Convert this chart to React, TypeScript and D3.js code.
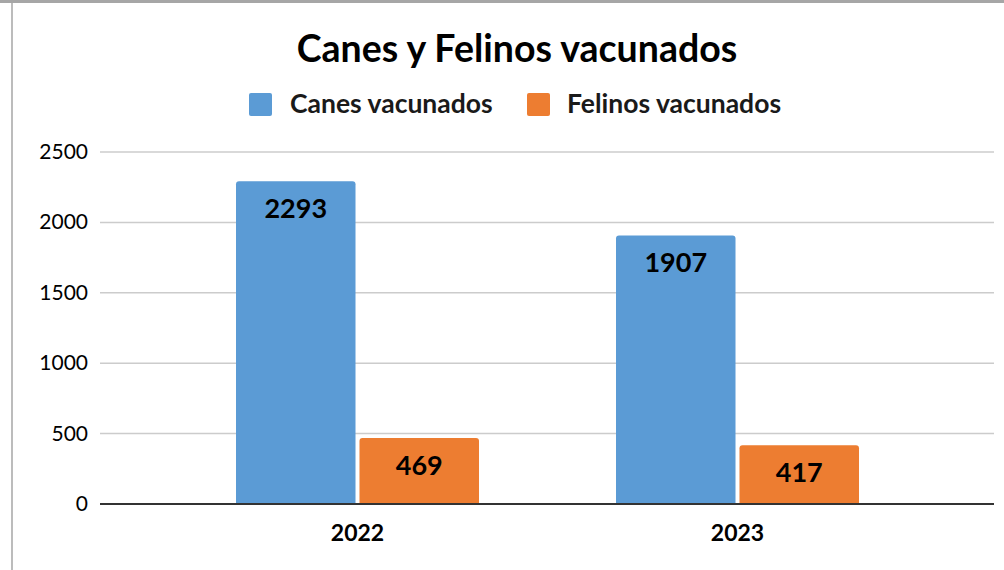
import React from "react";
import * as d3 from "d3";

const categories = ["2022", "2023"];
const seriesNames = ["Canes vacunados", "Felinos vacunados"];
const canes = [2293, 1907];
const felinos = [469, 417];
const yTicks = [0, 500, 1000, 1500, 2000, 2500];
const colors = ["#5B9BD5", "#ED7D31"];
const title = "Canes y Felinos vacunados";

const W = 1004;
const H = 570;
const FONT = "Lato, 'Open Sans', sans-serif";

function topRoundedBar(x: number, y: number, w: number, h: number, r: number) {
  const p = d3.path();
  p.moveTo(x, y + h);
  p.lineTo(x, y + r);
  p.quadraticCurveTo(x, y, x + r, y);
  p.lineTo(x + w - r, y);
  p.quadraticCurveTo(x + w, y, x + w, y + r);
  p.lineTo(x + w, y + h);
  p.closePath();
  return p.toString();
}

export default function App() {
  const y = d3.scaleLinear().domain([0, 2500]).range([504, 152]);
  const x0 = d3.scaleBand<string>().domain(categories).range([167.5, 927.5]).padding(0);
  const x1 = d3
    .scaleBand<string>()
    .domain(seriesNames)
    .range([68.5, 311.5])
    .paddingInner(4 / 124)
    .paddingOuter(0);
  const gridX0 = 100;
  const gridX1 = 994;
  const values = [canes, felinos];

  return (
    <svg
      width={W}
      height={H}
      style={{ position: "absolute", left: 0, top: 0, background: "#fff" }}
      fontFamily={FONT}
    >
      <rect x={0} y={0} width={W} height={H} fill="#fff" />
      {/* border */}
      <rect x={0} y={0} width={W} height={3} fill="#a6a6a6" />
      <line x1={12} x2={12} y1={3} y2={H} stroke="#a6a6a6" strokeWidth={1.5} />

      {/* title */}
      <text x={517} y={62} textAnchor="middle" fontSize={37.5} fontWeight="bold" fill="#000">
        {title}
      </text>

      {/* legend */}
      <g>
        <rect x={249} y={93} width={23} height={23} rx={2} fill={colors[0]} />
        <text x={290} y={113} fontSize={26.5} fontWeight="bold" fill="#1a1a1a">
          {seriesNames[0]}
        </text>
        <rect x={527} y={93} width={23} height={23} rx={2} fill={colors[1]} />
        <text x={567} y={113} fontSize={26.5} fontWeight="bold" fill="#1a1a1a">
          {seriesNames[1]}
        </text>
      </g>

      {/* gridlines & ticks */}
      {yTicks.map((t) => (
        <g key={t}>
          {t !== 0 && (
            <line x1={gridX0} x2={gridX1} y1={y(t)} y2={y(t)} stroke="#cccccc" strokeWidth={1.5} />
          )}
          <text x={88} y={y(t) + 7} textAnchor="end" fontSize={21} fill="#000">
            {t}
          </text>
        </g>
      ))}

      {/* bars */}
      {categories.map((c, i) => (
        <g key={c} transform={`translate(${x0(c)},0)`}>
          {seriesNames.map((s, j) => {
            const v = values[j][i];
            const bx = x1(s)!;
            const bw = x1.bandwidth();
            const by = y(v);
            const bh = y(0) - by;
            return (
              <g key={s}>
                <path d={topRoundedBar(bx, by, bw, bh, 3)} fill={colors[j]} />
                <text
                  x={bx + bw / 2}
                  y={by + 37}
                  textAnchor="middle"
                  fontSize={27}
                  fontWeight="bold"
                  fill="#000"
                >
                  {v}
                </text>
              </g>
            );
          })}
          <text
            x={x0.bandwidth() / 2}
            y={541}
            textAnchor="middle"
            fontSize={23}
            fontWeight="bold"
            fill="#000"
          >
            {c}
          </text>
        </g>
      ))}

      {/* axis line */}
      <line x1={gridX0} x2={gridX1} y1={y(0)} y2={y(0)} stroke="#333" strokeWidth={2} />
    </svg>
  );
}
